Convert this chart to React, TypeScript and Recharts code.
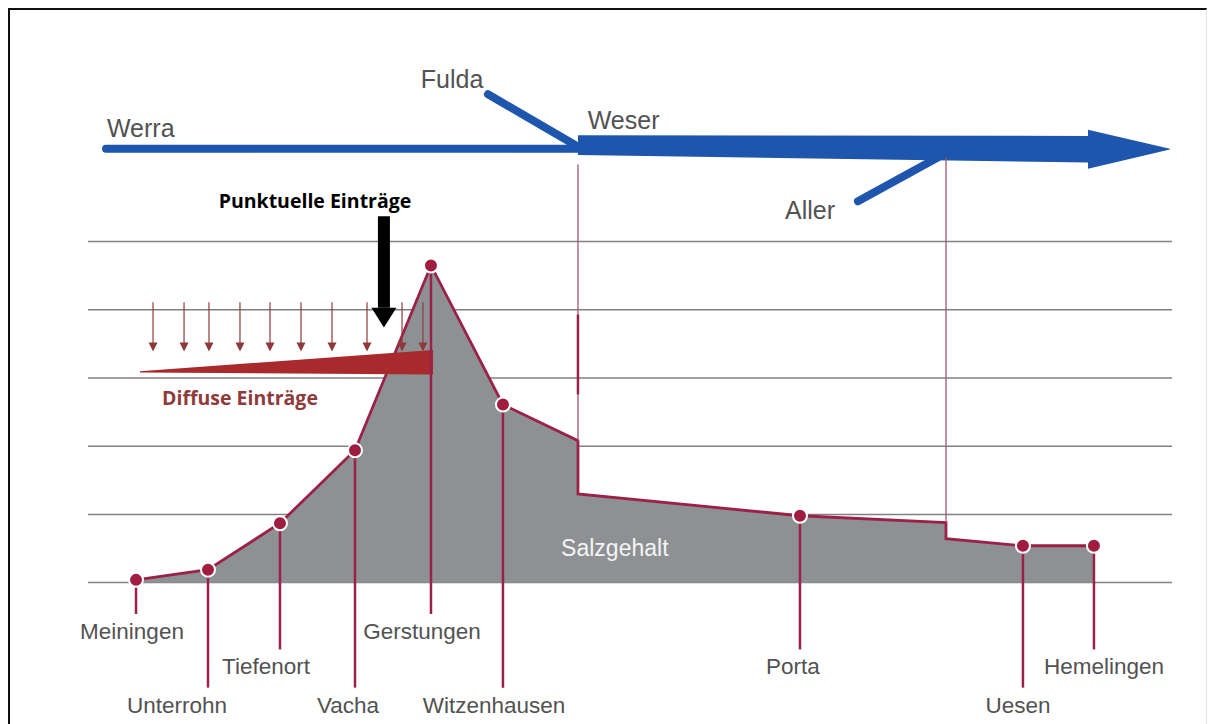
import React from "react"
import {
  ComposedChart,
  Area,
  Line,
  Scatter,
  XAxis,
  YAxis,
  CartesianGrid,
  ReferenceDot,
} from "recharts"

// Messstellen entlang Werra / Weser (schematische Flussposition 0..100, Salzgehalt in Stufen)
const stations = ["Meiningen", "Unterrohn", "Tiefenort", "Vacha", "Gerstungen", "Witzenhausen", "Porta", "Uesen", "Hemelingen"]
const stationKm = [4.43, 11.07, 17.71, 24.63, 31.64, 38.28, 65.68, 86.25, 92.8]
const stationSalt = [0.04, 0.19, 0.87, 1.94, 4.65, 2.61, 0.98, 0.54, 0.54]

// Zuflüsse: Salzgehalt oberhalb / unterhalb der Mündung
const tributaryKm = [45.2, 79.15]
const saltAbove = [2.08, 0.88]
const saltBelow = [1.3, 0.645]
const tributaryMarkTop = [6.13, 6.25]
// kräftiger markierter Abschnitt der Fulda-Linie
const fuldaMark = [3.93, 2.76]

const gridLevels = [0, 1, 2, 3, 4, 5]

// Beschriftung unter der Achse: Reihe 0 oben, 2 unten
const labelRow = [0, 2, 1, 2, 0, 2, 1, 2, 1]
const labelShift = [-4, -31, -14, -7, -9, -9, -7, -5, 10]
const rowTextLevel = [-0.72, -1.23, -1.8]
const rowStemEnd = [-0.46, -0.98, -1.54]

// Flussschema oben
const werraKm = [1.66, 45.2]
const werraLevel = [6.36, 6.36]
const fuldaKm = [36.9, 44.9]
const fuldaLevel = [7.16, 6.42]
const allerKm = [71.03, 79.15]
const allerLevel = [5.59, 6.3]
const weserKm = [45.2, 92.25, 92.25, 99.8]
const weserLow = [6.27, 6.16, 6.07, 6.35]
const weserHigh = [6.56, 6.55, 6.64, 6.36]

// Diffuse und punktuelle Einträge
const diffuseKm = [6.0, 8.86, 11.16, 14.02, 16.79, 19.65, 22.51, 25.74, 28.97, 30.9]
const diffuseTop = 4.11
const diffuseTip = 3.39
const wedgeKm = [4.8, 31.83]
const wedgeLow = [3.08, 3.05]
const wedgeHigh = [3.1, 3.41]
const pointKm = [26.15, 27.3, 28.45]
const pointShaft = [5.37, 4.03]
const pointLow = [4.03, 3.74, 4.03]
const pointHigh = [4.03, 4.03, 4.03]

const RED = "#9c2146"
const DOT = "#a01d40"
const BLUE = "#1e56ae"
const GREY_TEXT = "#525252"
const FONT = "'Liberation Sans', Arial, sans-serif"
const BOLD_FONT = "'Open Sans', sans-serif"

const profile = [
  ...stationKm.map((x, i) => ({ x, y: stationSalt[i] })),
  ...tributaryKm.flatMap((x, i) => [
    { x, y: saltAbove[i], o: 0 },
    { x, y: saltBelow[i], o: 1 },
  ]),
].sort((a: any, b: any) => a.x - b.x || (a.o ?? 0) - (b.o ?? 0))

const dots = stationKm.map((x, i) => ({ x, y: stationSalt[i] }))
const diffuseHeads = diffuseKm.map((x) => ({ x, y: diffuseTip }))

const line2 = (xs: number[], ys: number[]) => xs.map((x, i) => ({ x, y: ys[i] }))
const range = (xs: number[], lo: number[], hi: number[]) => xs.map((x, i) => ({ x, r: [lo[i], hi[i]] }))

function textAt(
  key: string,
  x: number,
  y: number,
  text: string,
  style: { size: number; color: string; weight?: number; anchor?: "start" | "middle" | "end"; family?: string; dx?: number }
) {
  return (
    <ReferenceDot
      key={key}
      x={x}
      y={y}
      r={0}
      ifOverflow="visible"
      shape={(p: any) => (
        <text
          x={p.cx + (style.dx ?? 0)}
          y={p.cy}
          textAnchor={style.anchor ?? "middle"}
          dominantBaseline="central"
          fontSize={style.size}
          fontWeight={style.weight ?? 400}
          fontFamily={style.family ?? FONT}
          fill={style.color}
        >
          {text}
        </text>
      )}
    />
  )
}

const seg = (key: string, xs: number[], ys: number[], stroke: string, width: number, cap?: "round") => (
  <Line
    key={key}
    data={line2(xs, ys)}
    dataKey="y"
    stroke={stroke}
    strokeWidth={width}
    strokeLinecap={cap}
    dot={false}
    activeDot={false}
    isAnimationActive={false}
  />
)

export default function App() {
  return (
    <div style={{ position: "absolute", left: 0, top: 0, width: 1214, height: 724, background: "#fff" }}>
      <div
        style={{
          position: "absolute",
          left: 8,
          top: 8,
          width: 1196,
          height: 716,
          borderTop: "2px solid #111",
          borderLeft: "2px solid #111",
          borderRight: "1px solid #e4e4e4",
        }}
      />
      <div style={{ position: "absolute", left: 0, top: 0 }}>
        <ComposedChart width={1214} height={724} margin={{ top: 37, right: 42, bottom: 5, left: 88 }}>
          <XAxis type="number" dataKey="x" domain={[0, 100]} allowDataOverflow hide />
          <YAxis type="number" domain={[-2, 8]} allowDataOverflow hide />
          <CartesianGrid vertical={false} horizontalValues={gridLevels} stroke="#808080" strokeWidth={1.5} />

          <Area
            data={profile}
            dataKey="y"
            type="linear"
            baseValue={0}
            fill="#8e9194"
            fillOpacity={1}
            stroke={RED}
            strokeWidth={2.8}
            dot={false}
            activeDot={false}
            isAnimationActive={false}
          />

          {tributaryKm.map((x, i) => seg("trib" + i, [x, x], [tributaryMarkTop[i], saltAbove[i]], "#a0566a", 1.3))}
          {seg("fuldaMark", [tributaryKm[0], tributaryKm[0]], fuldaMark, RED, 2.5)}

          {stationKm.map((x, i) => seg("stem" + i, [x, x], [stationSalt[i], rowStemEnd[labelRow[i]]], RED, 2.5))}

          {/* diffuse Einträge */}
          <Area
            data={range(wedgeKm, wedgeLow, wedgeHigh)}
            dataKey="r"
            type="linear"
            fill="#a92a2c"
            fillOpacity={1}
            stroke="none"
            dot={false}
            activeDot={false}
            isAnimationActive={false}
          />
          {diffuseKm.map((x, i) => seg("diff" + i, [x, x], [diffuseTop, diffuseTip + 0.1], "#8e3a3a", 1.2))}
          <Scatter
            data={diffuseHeads}
            dataKey="y"
            isAnimationActive={false}
            shape={(p: any) => (
              <path d={`M${p.cx - 4.5},${p.cy - 9} L${p.cx + 4.5},${p.cy - 9} L${p.cx},${p.cy} Z`} fill="#8e3a3a" />
            )}
          />

          {/* punktuelle Einträge */}
          {seg("pointShaft", [pointKm[1], pointKm[1]], pointShaft, "#000", 12)}
          <Area
            data={range(pointKm, pointLow, pointHigh)}
            dataKey="r"
            type="linear"
            fill="#000"
            fillOpacity={1}
            stroke="none"
            dot={false}
            activeDot={false}
            isAnimationActive={false}
          />

          {/* Flussschema */}
          {seg("werra", werraKm, werraLevel, BLUE, 8, "round")}
          {seg("fulda", fuldaKm, fuldaLevel, BLUE, 8, "round")}
          {seg("aller", allerKm, allerLevel, BLUE, 8, "round")}
          <Area
            data={range(weserKm, weserLow, weserHigh)}
            dataKey="r"
            type="linear"
            fill={BLUE}
            fillOpacity={1}
            stroke="none"
            dot={false}
            activeDot={false}
            isAnimationActive={false}
          />

          <Scatter
            data={dots}
            dataKey="y"
            isAnimationActive={false}
            shape={(p: any) => <circle cx={p.cx} cy={p.cy} r={7} fill={DOT} stroke="#fff" strokeWidth={2} />}
          />

          {stations.map((name, i) =>
            textAt("st" + i, stationKm[i], rowTextLevel[labelRow[i]], name, {
              size: 22.5,
              color: GREY_TEXT,
              dx: labelShift[i],
            })
          )}

          {textAt("werra", 1.75, 6.67, "Werra", { size: 25, color: GREY_TEXT, anchor: "start" })}
          {textAt("fulda", 30.7, 7.38, "Fulda", { size: 25, color: GREY_TEXT, anchor: "start" })}
          {textAt("weser", 46.1, 6.79, "Weser", { size: 25, color: GREY_TEXT, anchor: "start" })}
          {textAt("aller", 64.3, 5.47, "Aller", { size: 25, color: GREY_TEXT, anchor: "start" })}
          {textAt("punkt", 20.94, 5.6, "Punktuelle Einträge", { size: 19.5, color: "#000", weight: 700, family: BOLD_FONT })}
          {textAt("diffus", 14.02, 2.71, "Diffuse Einträge", { size: 19.5, color: "#8e3b3b", weight: 700, family: BOLD_FONT })}
          {textAt("salz", 48.6, 0.51, "Salzgehalt", { size: 23, color: "#f4f4f4" })}
        </ComposedChart>
      </div>
    </div>
  )
}
